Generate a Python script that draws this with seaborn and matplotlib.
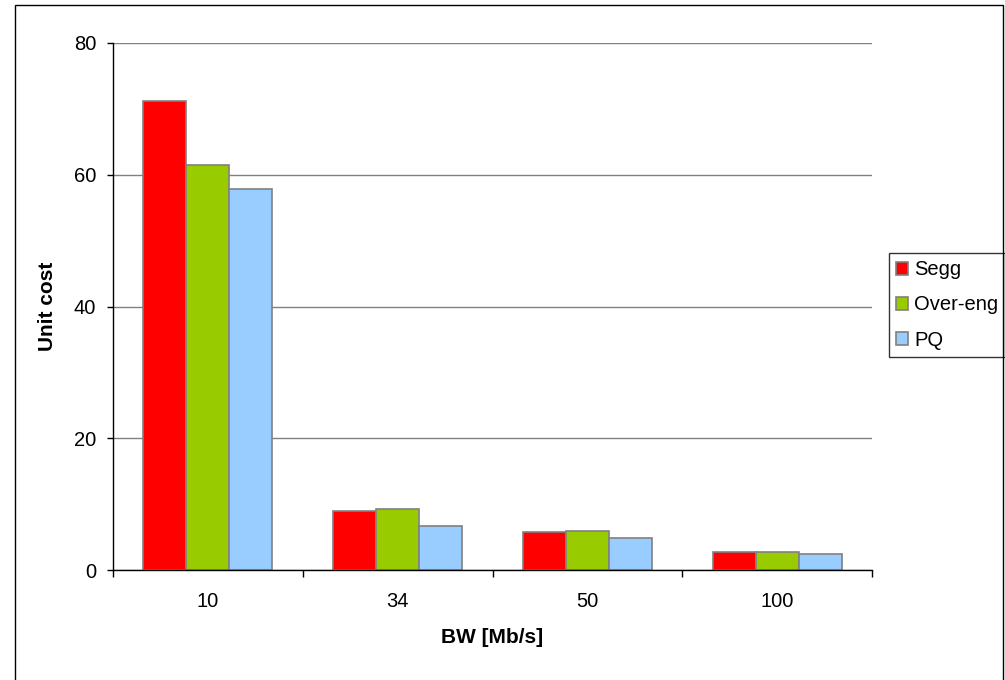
import pandas as pd
import matplotlib.pyplot as plt
import seaborn as sns
from matplotlib.patches import Rectangle

bandwidths = ["10", "34", "50", "100"]
segg = [71.2, 9.0, 5.7, 2.7]
over_eng = [61.5, 9.3, 5.9, 2.7]
pq = [57.8, 6.7, 4.8, 2.4]
series = ["Segg", "Over-eng", "PQ"]
colors = ["#FF0000", "#99CC00", "#99CCFF"]

df = pd.DataFrame({
    "BW": bandwidths * 3,
    "cost": segg + over_eng + pq,
    "method": [s for s in series for _ in bandwidths],
})

sns.set_style("white")
plt.rcParams["font.family"] = ["Liberation Sans", "DejaVu Sans"]
plt.rcParams["text.color"] = "black"
plt.rcParams["axes.labelcolor"] = "black"
plt.rcParams["xtick.color"] = "black"
plt.rcParams["ytick.color"] = "black"

fig = plt.figure(figsize=(10.05, 6.8), dpi=100)
ax = fig.add_axes([113 / 1005, 1 - 570 / 680, (872 - 113) / 1005, (570 - 43) / 680])

sns.barplot(data=df, x="BW", y="cost", hue="method", order=bandwidths,
            hue_order=series, palette=colors, width=0.68, ax=ax,
            edgecolor="#808080", linewidth=1.2, saturation=1)

ax.set_xlim(-0.5, 3.5)
ax.set_ylim(0, 80)
ax.set_yticks([0, 20, 40, 60, 80])
ax.yaxis.grid(True, color="#808080", linewidth=1)
ax.set_axisbelow(True)

for side in ["top", "right"]:
    ax.spines[side].set_visible(False)
for side in ["left", "bottom"]:
    ax.spines[side].set_color("black")
    ax.spines[side].set_linewidth(1)

ax.tick_params(axis="y", left=True, length=4, width=1, color="black",
               labelsize=14.5, pad=8, labelcolor="black")
ax.tick_params(axis="x", which="major", length=0, labelsize=14.5, pad=16,
               labelcolor="black")
ax.set_xticks([-0.5, 0.5, 1.5, 2.5, 3.5], minor=True)
ax.tick_params(axis="x", which="minor", bottom=True, length=5, width=1, color="black")

ax.set_xlabel("BW [Mb/s]", fontsize=15, fontweight="bold", labelpad=12, color="black")
ax.set_ylabel("Unit cost", fontsize=15, fontweight="bold", labelpad=12, color="black")

leg = ax.legend(loc="center left", bbox_to_anchor=(889 / 1005, 1 - 305 / 680),
                bbox_transform=fig.transFigure, frameon=True, fancybox=False,
                fontsize=14.5, handlelength=0.6, handleheight=0.6,
                handletextpad=0.3, borderpad=0.35, labelspacing=0.8,
                borderaxespad=0)
leg.get_frame().set_edgecolor("black")
leg.get_frame().set_linewidth(1)
for t in leg.get_texts():
    t.set_color("black")

fig.add_artist(Rectangle((15 / 1005, -0.02), (1003 - 15) / 1005, 1 - 5 / 680 + 0.02,
                         transform=fig.transFigure, fill=False,
                         edgecolor="black", linewidth=1))

fig.savefig("out.png", dpi=100)
